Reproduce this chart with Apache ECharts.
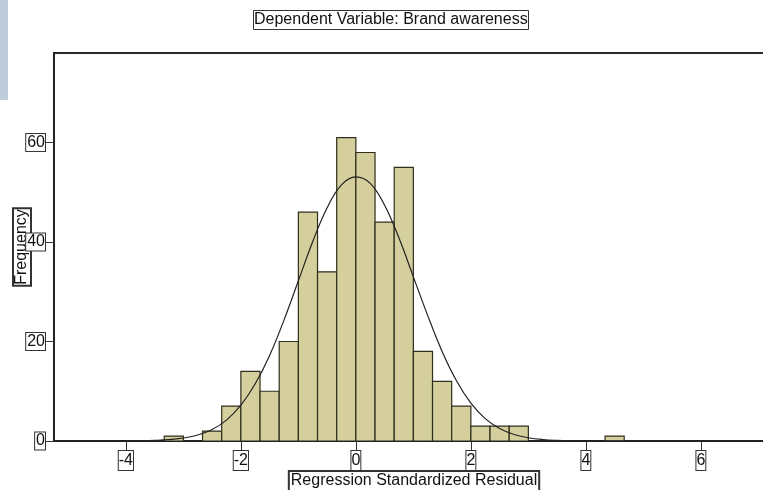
<!DOCTYPE html>
<html>
<head>
<meta charset="utf-8">
<script src="https://cdn.jsdelivr.net/npm/echarts@6/dist/echarts.min.js"></script>
<style>html,body{margin:0;padding:0;background:#fff}#c{width:763px;height:490px}</style>
</head>
<body>
<div id="c"></div>
<script>
// Histogram bins (lower edges, bin width 1/3) and counts
var binLow = [-3.3333, -3.0, -2.6667, -2.3333, -2.0, -1.6667, -1.3333, -1.0, -0.6667, -0.3333,
              0.0, 0.3333, 0.6667, 1.0, 1.3333, 1.6667, 2.0, 2.3333, 2.6667, 4.3333];
var binWidth = 0.3333;
var counts = [1, 0, 2, 7, 14, 10, 20, 46, 34, 61, 58, 44, 55, 18, 12, 7, 3, 3, 3, 1];

// Normal curve
var curveX = [-5.25, -4.0, -3.75, -3.5, -3.25, -3.0, -2.75, -2.5, -2.25, -2.0, -1.75, -1.5, -1.25, -1.0,
              -0.75, -0.5, -0.25, 0.0, 0.25, 0.5, 0.75, 1.0, 1.25, 1.5, 1.75, 2.0, 2.25, 2.5, 2.75,
              3.0, 3.25, 3.5, 3.75, 4.0, 7.3];
var curveY = [0, 0.02, 0.05, 0.12, 0.27, 0.6, 1.2, 2.3, 4.2, 7.2, 11.5, 17.2, 24.3, 32.2,
              40.1, 46.9, 51.5, 53.1, 51.8, 47.4, 40.8, 33.0, 25.2, 18.0, 12.1, 7.6, 4.5, 2.5, 1.3,
              0.65, 0.3, 0.13, 0.05, 0.02, 0];

var xTicks = [-4, -2, 0, 2, 4, 6];
var yTicks = [0, 20, 40, 60];

var chart = echarts.init(document.getElementById('c'), null, {renderer: 'canvas'});

var barData = binLow.map(function (lo, i) { return [lo, lo + binWidth, counts[i]]; });
var lineData = curveX.map(function (x, i) { return [x, curveY[i]]; });

var FONT = '"Liberation Sans", Arial, sans-serif';
var boxLabel = {
  color: '#111', fontFamily: FONT, fontSize: 16,
  borderColor: '#333', borderWidth: 1, backgroundColor: '#fff'
};

chart.setOption({
  animation: false,
  backgroundColor: '#fff',
  graphic: [{
    type: 'rect', left: 0, top: 0, z: -1,
    shape: {width: 8, height: 100},
    style: {fill: '#bfcddb'}
  }],
  title: {
    text: 'Dependent Variable: Brand awareness',
    left: 253, top: 10,
    padding: [1, 1],
    borderColor: '#333', borderWidth: 1,
    textStyle: {fontFamily: FONT, fontSize: 16, fontWeight: 'normal', color: '#111', lineHeight: 18}
  },
  grid: {left: 54, top: 53, right: -11, bottom: 49, outerBoundsMode: 'none', containLabel: false,
         show: true, borderColor: '#2a2a2a', borderWidth: 2, backgroundColor: 'transparent'},
  xAxis: {
    type: 'value', min: -5.25, max: 7.272,
    name: 'Regression Standardized Residual',
    nameLocation: 'middle', nameGap: 30, nameMoveOverlap: false,
    nameTextStyle: Object.assign({}, boxLabel, {padding: [2, 2, 4, 2], lineHeight: 16, backgroundColor: 'transparent'}),
    axisLine: {show: true, onZero: false, lineStyle: {color: '#222', width: 2}},
    axisTick: {show: true, inside: false, length: 9, customValues: xTicks, lineStyle: {color: '#333', width: 1}},
    axisLabel: Object.assign({}, boxLabel, {margin: 10, padding: [2, 0, 1, 0], lineHeight: 16, customValues: xTicks}),
    splitLine: {show: false}
  },
  yAxis: {
    type: 'value', min: 0, max: 78,
    name: 'Frequency',
    nameLocation: 'middle', nameGap: 23, nameRotate: 90, nameMoveOverlap: false,
    nameTextStyle: Object.assign({}, boxLabel, {padding: [1, 1, 1, 1], lineHeight: 16, backgroundColor: 'transparent'}),
    axisLine: {show: true, onZero: false, lineStyle: {color: '#222', width: 2}},
    axisTick: {show: true, length: 9, customValues: yTicks, lineStyle: {color: '#333', width: 1}},
    axisLabel: Object.assign({}, boxLabel, {margin: 9, padding: [1, 0, 0, 1], lineHeight: 16, customValues: yTicks}),
    splitLine: {show: false}
  },
  series: [{
    type: 'custom',
    z: 2,
    clip: true,
    data: barData,
    encode: {x: [0, 1], y: 2},
    renderItem: function (params, api) {
      var x0 = api.value(0), x1 = api.value(1), h = api.value(2);
      if (!h) return null;
      var p0 = api.coord([x0, h]);
      var p1 = api.coord([x1, 0]);
      return {
        type: 'rect',
        shape: {x: p0[0], y: p0[1], width: p1[0] - p0[0], height: p1[1] - p0[1]},
        style: {fill: '#d5cf9e', stroke: '#2e2e1c', lineWidth: 1.2}
      };
    }
  }, {
    type: 'line',
    z: 3,
    data: lineData,
    smooth: 0.4,
    showSymbol: false,
    symbol: 'none',
    lineStyle: {color: '#222', width: 1.2}
  }]
});
</script>
</body>
</html>
